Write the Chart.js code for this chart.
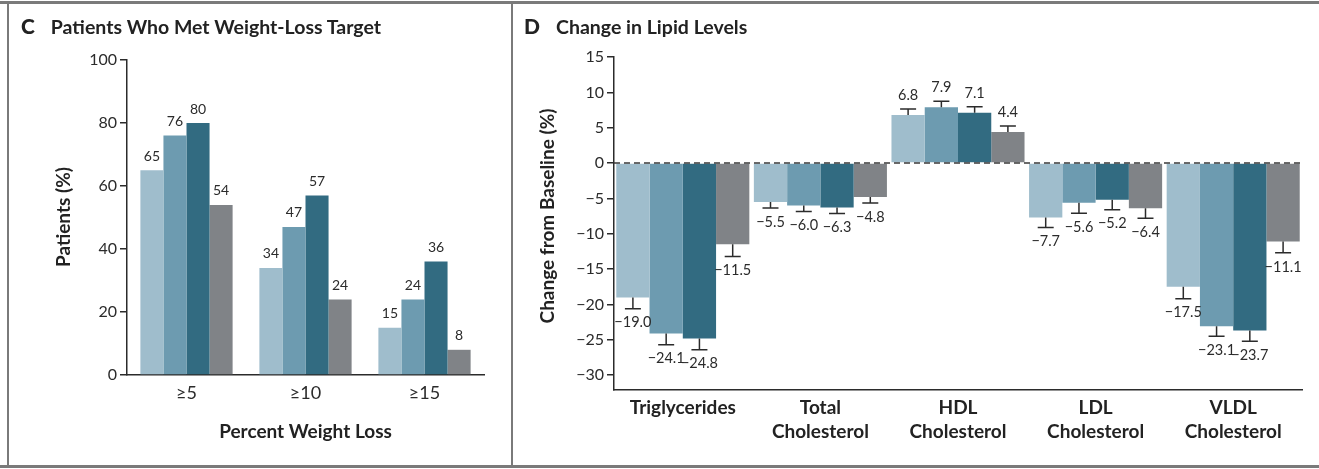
<!DOCTYPE html>
<html>
<head>
<meta charset="utf-8">
<script src="https://cdn.jsdelivr.net/npm/chart.js@4.4.1/dist/chart.umd.min.js"></script>
<style>
  html, body { margin: 0; padding: 0; background: #fff; }
  #page { position: relative; width: 1319px; height: 469px; overflow: hidden; font-family: Lato, sans-serif; color: #222; }
  .rule { position: absolute; background: #7a7a7a; }
  .panel { position: absolute; top: 0; height: 469px; }
  .heading { position: absolute; top: 13px; font-weight: 700; font-size: 19.5px; white-space: nowrap; }
  .heading b { font-size: 21px; margin-right: 16px; }
</style>
</head>
<body>
<div id="page">
  <div class="rule" style="left:0;top:1px;width:1319px;height:3px"></div>
  <div class="rule" style="left:7px;top:1px;width:2px;height:467px"></div>
  <div class="rule" style="left:511px;top:1px;width:2px;height:467px"></div>
  <div class="rule" style="left:0;top:465px;width:1319px;height:3px"></div>

  <div class="panel" style="left:0;width:511px"><canvas id="weightChart" width="511" height="469"></canvas></div>
  <div class="panel" style="left:511px;width:808px"><canvas id="lipidChart" width="808" height="469"></canvas></div>

  <div class="heading" style="left:21px"><b>C</b>Patients Who Met Weight-Loss Target</div>
  <div class="heading" style="left:524px"><b>D</b>Change in Lipid Levels</div>
</div>

<script>
// Panel C: share of patients reaching each weight-loss threshold
const weightCategories = ['≥5', '≥10', '≥15'];
const weightGroup1 = [65, 34, 15];
const weightGroup2 = [76, 47, 24];
const weightGroup3 = [80, 57, 36];
const weightPlacebo = [54, 24, 8];
const weightTicks = [0, 20, 40, 60, 80, 100];

// Panel D: percent change in lipids, with error bar half-lengths
const lipidCategories = [['Triglycerides'], ['Total', 'Cholesterol'], ['HDL', 'Cholesterol'], ['LDL', 'Cholesterol'], ['VLDL', 'Cholesterol']];
const lipidGroup1 = [-19.0, -5.5, 6.8, -7.7, -17.5];
const lipidGroup2 = [-24.1, -6.0, 7.9, -5.6, -23.1];
const lipidGroup3 = [-24.8, -6.3, 7.1, -5.2, -23.7];
const lipidPlacebo = [-11.5, -4.8, 4.4, -6.4, -11.1];
const lipidErr1 = [1.6, 0.85, 0.85, 1.4, 1.7];
const lipidErr2 = [1.6, 0.85, 0.85, 1.5, 1.4];
const lipidErr3 = [1.6, 0.85, 0.85, 1.4, 1.5];
const lipidErrPlacebo = [1.7, 0.85, 0.85, 1.4, 1.6];
const lipidTicks = [15, 10, 5, 0, -5, -10, -15, -20, -25, -30];

const barColors = ['#9fbdcc', '#6d9bb0', '#326b81', '#808387'];
const ink = '#2b2b2b';

Chart.defaults.font.family = 'Lato, sans-serif';
Chart.defaults.color = ink;

const fmt = v => String(v).replace('-', '\u2212');

// Error bars, value labels, zero line and axis titles
const annotations = {
    id: 'annotations',
    afterDatasetsDraw(chart, args, opts) {
        const ctx = chart.ctx;
        const y = chart.scales.y;
        const area = chart.chartArea;
        ctx.save();

        if (opts.zeroLine) {
            const zy = y.getPixelForValue(0);
            ctx.strokeStyle = '#3a3a3a';
            ctx.lineWidth = 1.5;
            ctx.setLineDash([6, 4]);
            ctx.beginPath();
            ctx.moveTo(area.left, zy);
            ctx.lineTo(area.right, zy);
            ctx.stroke();
            ctx.setLineDash([]);
        }

        chart.data.datasets.forEach((ds, i) => {
            const meta = chart.getDatasetMeta(i);
            meta.data.forEach((bar, j) => {
                const v = ds.data[j];
                let end = v;
                if (opts.errors) {
                    const e = opts.errors[i][j];
                    end = v < 0 ? v - e : v + e;
                    const ey = y.getPixelForValue(end);
                    ctx.strokeStyle = ink;
                    ctx.lineWidth = 1.5;
                    ctx.beginPath();
                    ctx.moveTo(bar.x, bar.y);
                    ctx.lineTo(bar.x, ey);
                    ctx.moveTo(bar.x - 8, ey);
                    ctx.lineTo(bar.x + 8, ey);
                    ctx.stroke();
                }
                const py = y.getPixelForValue(end);
                ctx.fillStyle = ink;
                ctx.font = opts.labelFont;
                ctx.textAlign = 'center';
                ctx.textBaseline = 'middle';
                const txt = opts.decimals ? fmt(v.toFixed(1)) : fmt(v);
                ctx.fillText(txt, bar.x, v < 0 ? py + opts.labelGap : py - opts.labelGap);
            });
        });

        ctx.font = '700 19px Lato, sans-serif';
        ctx.fillStyle = '#222';
        ctx.textAlign = 'center';
        ctx.textBaseline = 'middle';
        if (opts.xTitle) {
            ctx.fillText(opts.xTitle, (area.left + area.right) / 2, opts.xTitleY);
        }
        ctx.translate(opts.yTitleX, opts.yTitleY);
        ctx.rotate(-Math.PI / 2);
        ctx.fillText(opts.yTitle, 0, 0);
        ctx.restore();
    }
};

function makeDatasets(series, catPct) {
    return series.map((data, i) => ({
        data: data,
        backgroundColor: barColors[i],
        borderWidth: 0,
        categoryPercentage: catPct,
        barPercentage: 1
    }));
}

function axisY(ticks, width, min, max) {
    return {
        min: min,
        max: max,
        afterFit(scale) { scale.width = width; },
        afterBuildTicks(scale) { scale.ticks = ticks.map(v => ({ value: v })); },
        grid: { display: true, drawOnChartArea: false, drawTicks: true, tickLength: 7, color: ink, lineWidth: 1.5 },
        border: { display: true, color: ink, width: 1.5 },
        ticks: { font: { size: 16 }, color: ink, padding: 3, callback: v => fmt(v) }
    };
}

// Panel C
new Chart(document.getElementById('weightChart'), {
    type: 'bar',
    data: {
        labels: weightCategories,
        datasets: makeDatasets([weightGroup1, weightGroup2, weightGroup3, weightPlacebo], 0.775)
    },
    options: {
        responsive: false,
        animation: false,
        layout: { padding: { top: 60, right: 27, left: 0, bottom: 0 } },
        scales: {
            x: {
                afterFit(scale) { scale.height = 94; },
                grid: { display: false, drawTicks: false },
                border: { display: true, color: ink, width: 1.5 },
                ticks: { font: { size: 18 }, color: ink, padding: 7 }
            },
            y: axisY(weightTicks, 127, 0, 100)
        },
        plugins: {
            legend: { display: false },
            tooltip: { enabled: false },
            annotations: {
                labelFont: '14px Lato, sans-serif', labelGap: 14, decimals: false,
                yTitle: 'Patients (%)', yTitleX: 64, yTitleY: 217,
                xTitle: 'Percent Weight Loss', xTitleY: 432
            }
        }
    },
    plugins: [annotations]
});

// Panel D
new Chart(document.getElementById('lipidChart'), {
    type: 'bar',
    data: {
        labels: lipidCategories,
        datasets: makeDatasets([lipidGroup1, lipidGroup2, lipidGroup3, lipidPlacebo], 0.967)
    },
    options: {
        responsive: false,
        animation: false,
        layout: { padding: { top: 57, right: 17, left: 0, bottom: 0 } },
        scales: {
            x: {
                afterFit(scale) { scale.height = 79; },
                grid: { display: false, drawTicks: false },
                border: { display: true, color: ink, width: 1.5 },
                ticks: { font: { size: 19, weight: '700', lineHeight: 1.25 }, color: '#222', padding: 6 }
            },
            y: axisY(lipidTicks, 103, -32.1, 15)
        },
        plugins: {
            legend: { display: false },
            tooltip: { enabled: false },
            annotations: {
                labelFont: '14.5px Lato, sans-serif', labelGap: 14, decimals: true, zeroLine: true,
                errors: [lipidErr1, lipidErr2, lipidErr3, lipidErrPlacebo],
                yTitle: 'Change from Baseline (%)', yTitleX: 37, yTitleY: 216
            }
        }
    },
    plugins: [annotations]
});
</script>
</body>
</html>
